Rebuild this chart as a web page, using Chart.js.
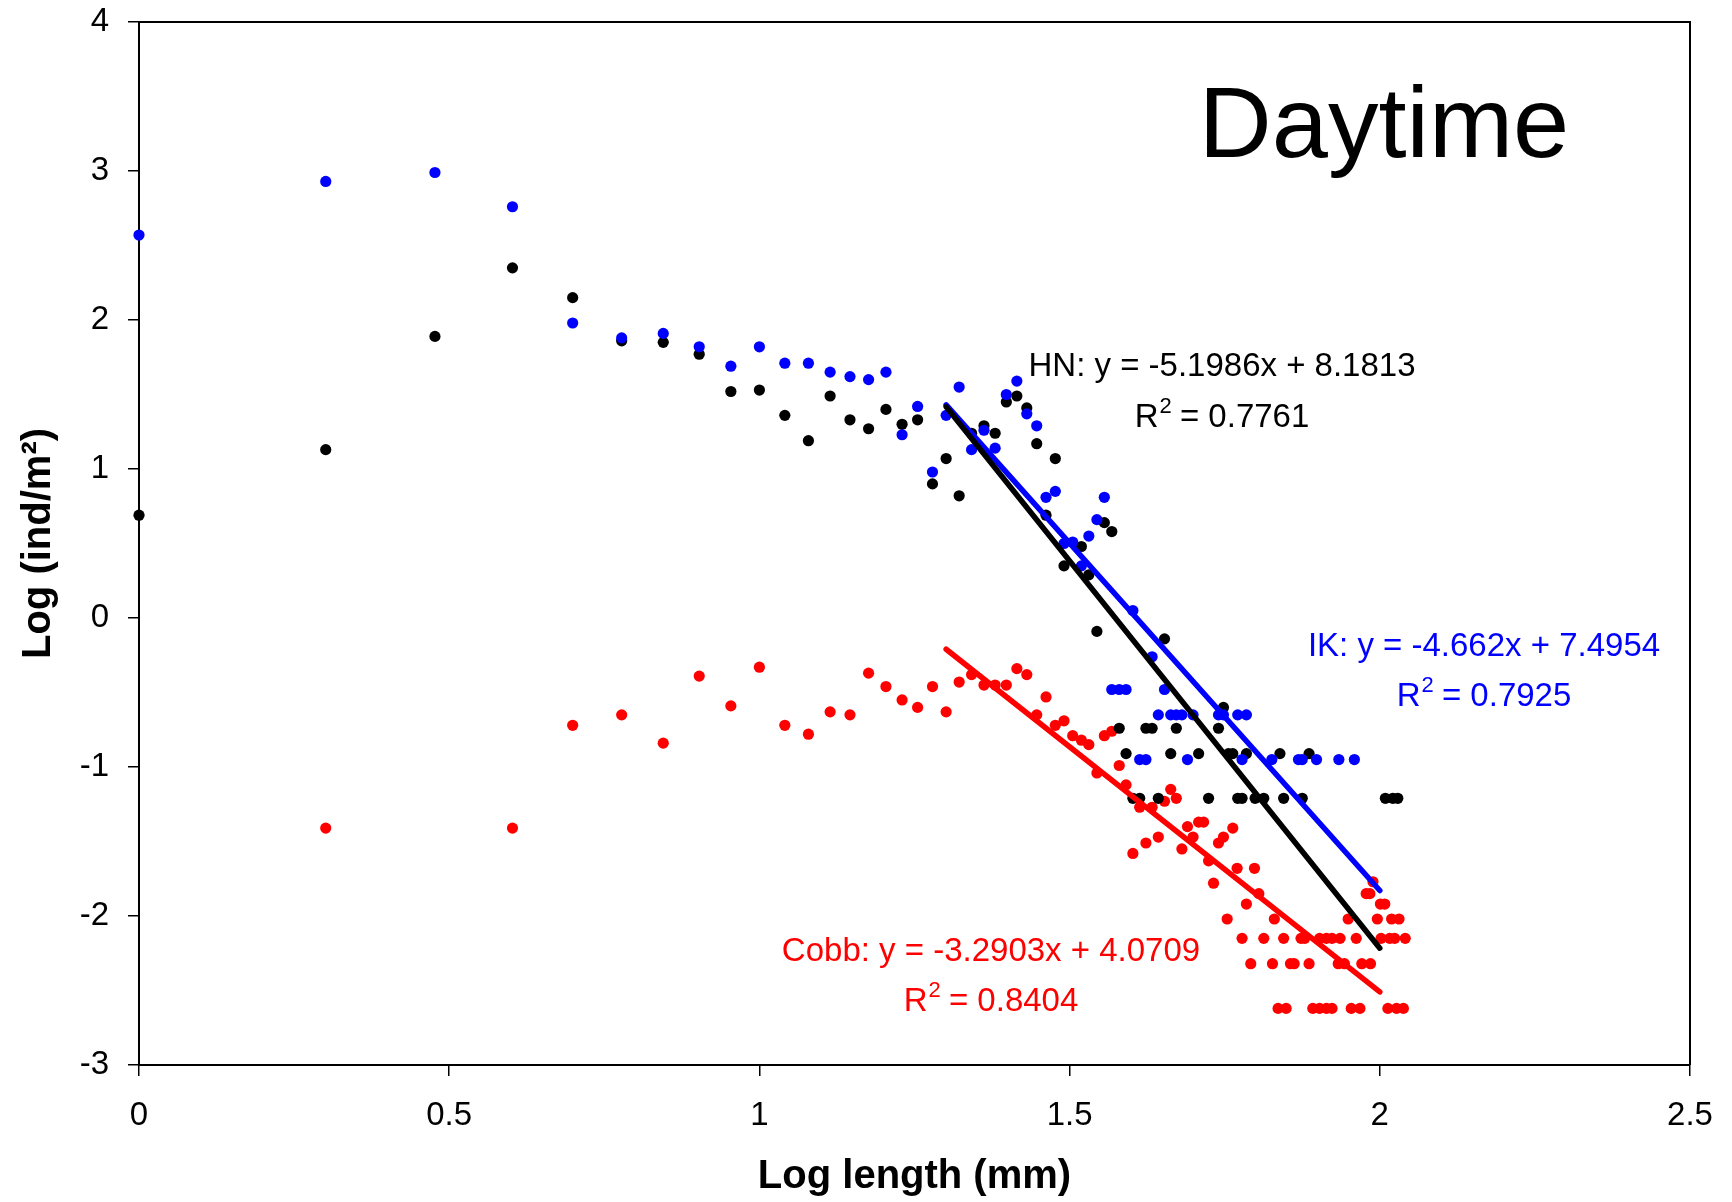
<!DOCTYPE html>
<html>
<head>
<meta charset="utf-8">
<script src="https://cdn.jsdelivr.net/npm/chart.js@4.4.1/dist/chart.umd.min.js"></script>
<style>
  html, body { margin: 0; padding: 0; background: #fff; }
  canvas { display: block; }
</style>
</head>
<body>
<canvas id="grafico" width="1732" height="1202"></canvas>
<script>
// Datos (log longitud en mm, log ind/m2)
var hnX = [0, 0.301, 0.477, 0.602, 0.699, 0.778, 0.845, 0.903, 0.954, 1.000,
  1.041, 1.079, 1.114, 1.146, 1.176, 1.204, 1.230, 1.255, 1.279, 1.301,
  1.322, 1.342, 1.362, 1.380, 1.398, 1.415, 1.431, 1.447, 1.462, 1.477,
  1.491, 1.519, 1.531, 1.544, 1.556, 1.568, 1.580, 1.591, 1.602, 1.613,
  1.623, 1.633, 1.643, 1.653, 1.663, 1.672, 1.708, 1.724, 1.740, 1.748,
  1.756, 1.763, 1.771, 1.778, 1.785, 1.799, 1.813, 1.839, 1.845, 1.875,
  1.886, 2.009, 2.021, 2.029];
var hnY = [0.69, 1.13, 1.89, 2.35, 2.15, 1.86, 1.85, 1.77, 1.52, 1.53,
  1.36, 1.19, 1.49, 1.33, 1.27, 1.40, 1.30, 1.33, 0.90, 1.07,
  0.82, 1.24, 1.29, 1.24, 1.45, 1.49, 1.41, 1.17, 0.69, 1.07,
  0.35, 0.48, 0.29, -0.09, 0.64, 0.58, -0.74, -0.91, -1.21, -1.21,
  -0.74, -0.74, -1.21, -0.14, -0.91, -0.74, -0.91, -1.21, -0.74, -0.60,
  -0.91, -0.91, -1.21, -1.21, -0.91, -1.21, -1.21, -0.91, -1.21, -1.21,
  -0.91, -1.21, -1.21, -1.21];

var ikX = [0, 0.301, 0.477, 0.602, 0.699, 0.778, 0.845, 0.903, 0.954, 1.000,
  1.041, 1.079, 1.114, 1.146, 1.176, 1.204, 1.230, 1.255, 1.279, 1.301,
  1.322, 1.342, 1.362, 1.380, 1.398, 1.415, 1.431, 1.447, 1.462, 1.477,
  1.491, 1.505, 1.519, 1.531, 1.544, 1.556, 1.568, 1.580, 1.591, 1.602,
  1.613, 1.623, 1.633, 1.643, 1.653, 1.663, 1.672, 1.681, 1.690, 1.699,
  1.740, 1.748, 1.771, 1.778, 1.785, 1.826, 1.869, 1.875, 1.898, 1.934,
  1.959];
var ikY = [2.57, 2.93, 2.99, 2.76, 1.98, 1.88, 1.91, 1.82, 1.69, 1.82,
  1.71, 1.71, 1.65, 1.62, 1.60, 1.65, 1.23, 1.42, 0.98, 1.36,
  1.55, 1.13, 1.26, 1.14, 1.50, 1.59, 1.37, 1.29, 0.81, 0.85,
  0.50, 0.51, 0.35, 0.55, 0.66, 0.81, -0.48, -0.48, -0.48, 0.05,
  -0.95, -0.95, -0.26, -0.65, -0.48, -0.65, -0.65, -0.65, -0.95, -0.65,
  -0.65, -0.65, -0.65, -0.95, -0.65, -0.95, -0.95, -0.95, -0.95, -0.95,
  -0.95];

var cobbX = [0.301, 0.602, 0.699, 0.778, 0.845, 0.903, 0.954, 1.000, 1.041, 1.079,
  1.114, 1.146, 1.176, 1.204, 1.230, 1.255, 1.279, 1.301, 1.322, 1.342,
  1.362, 1.380, 1.398, 1.415, 1.431, 1.447, 1.462, 1.477, 1.491, 1.505,
  1.519, 1.531, 1.544, 1.556, 1.568, 1.580, 1.591, 1.602, 1.613, 1.623,
  1.633, 1.643, 1.653, 1.663, 1.672, 1.681, 1.690, 1.699, 1.708, 1.716,
  1.724, 1.732, 1.740, 1.748, 1.754, 1.763, 1.770, 1.778, 1.785, 1.792,
  1.798, 1.805, 1.813, 1.827, 1.830, 1.836, 1.845, 1.849, 1.856, 1.862,
  1.873, 1.879, 1.886, 1.892, 1.903, 1.903, 1.914, 1.914, 1.923, 1.923,
  1.933, 1.936, 1.943, 1.949, 1.954, 1.962, 1.968, 1.971, 1.978, 1.984,
  1.985, 1.989, 1.996, 2.001, 2.002, 2.008, 2.013, 2.016, 2.019, 2.024,
  2.027, 2.031, 2.038, 2.041];
var cobbY = [-1.41, -1.41, -0.72, -0.65, -0.84, -0.39, -0.59, -0.33, -0.72, -0.78,
  -0.63, -0.65, -0.37, -0.46, -0.55, -0.60, -0.46, -0.63, -0.43, -0.38,
  -0.45, -0.45, -0.45, -0.34, -0.38, -0.65, -0.53, -0.72, -0.69, -0.79,
  -0.82, -0.85, -1.04, -0.79, -0.76, -0.99, -1.12, -1.58, -1.27, -1.51,
  -1.27, -1.47, -1.23, -1.15, -1.21, -1.55, -1.40, -1.47, -1.37, -1.37,
  -1.63, -1.78, -1.51, -1.47, -2.02, -1.41, -1.68, -2.15, -1.92, -2.32,
  -1.68, -1.85, -2.15, -2.32, -2.02, -2.62, -2.15, -2.62, -2.32, -2.32,
  -2.15, -2.15, -2.32, -2.62, -2.15, -2.62, -2.15, -2.62, -2.15, -2.62,
  -2.32, -2.15, -2.32, -2.02, -2.62, -2.15, -2.62, -2.32, -1.85, -1.85,
  -2.32, -1.77, -2.02, -1.92, -2.15, -1.92, -2.62, -2.15, -2.02, -2.15,
  -2.62, -2.02, -2.62, -2.15];

// Rectas de regresion (HN, IK, Cobb)
var ajusteNombres = ['HN', 'IK', 'Cobb'];
var ajustePendiente = [-5.1986, -4.662, -3.2903];
var ajusteOrdenada = [8.1813, 7.4954, 4.0709];
var ajusteR2 = ['0.7761', '0.7925', '0.8404'];
var ajusteX = [1.301, 2.0];

// Marcas de los ejes
var xTicks = [0, 0.5, 1, 1.5, 2, 2.5];
var yTicks = [4, 3, 2, 1, 0, -1, -2, -3];

var FUENTE = '"Liberation Sans", Arial, sans-serif';
Chart.defaults.font.family = FUENTE;
Chart.defaults.color = '#000';

function puntos(xs, ys) {
  return xs.map(function (x, i) { return { x: x, y: ys[i] }; });
}
function recta(i) {
  return ajusteX.map(function (x) {
    return { x: x, y: ajustePendiente[i] * x + ajusteOrdenada[i] };
  });
}

function serie(label, data, color, orden) {
  return {
    type: 'scatter', label: label, data: data,
    backgroundColor: color, borderWidth: 0,
    pointRadius: 5.6, pointHoverRadius: 5.6,
    clip: false, order: orden
  };
}
function linea(i, color) {
  return {
    type: 'line', label: ajusteNombres[i] + ' ajuste', data: recta(i),
    borderColor: color, borderWidth: 5.5, borderCapStyle: 'round',
    pointRadius: 0, fill: false, showLine: true, order: 0
  };
}

// Texto con R al cuadrado como superindice
function textoR2(ctx, valor, cx, cy, tam) {
  var a = 'R', sup = '2', b = ' = ' + valor;
  var tsup = Math.round(tam * 0.66);
  ctx.font = tam + 'px ' + FUENTE;
  var wa = ctx.measureText(a).width, wb = ctx.measureText(b).width;
  ctx.font = tsup + 'px ' + FUENTE;
  var ws = ctx.measureText(sup).width;
  var x = cx - (wa + ws + wb) / 2;
  ctx.textAlign = 'left';
  ctx.textBaseline = 'middle';
  ctx.font = tam + 'px ' + FUENTE;
  ctx.fillText(a, x, cy);
  ctx.font = tsup + 'px ' + FUENTE;
  ctx.fillText(sup, x + wa + 1, cy - tam * 0.34);
  ctx.font = tam + 'px ' + FUENTE;
  ctx.fillText(b, x + wa + ws, cy);
}

var etiquetas = {
  id: 'etiquetas',
  afterDatasetsDraw: function (chart) {
    var ctx = chart.ctx, a = chart.chartArea;
    ctx.save();
    // marco superior y derecho
    ctx.strokeStyle = '#000';
    ctx.lineWidth = 2;
    ctx.beginPath();
    ctx.moveTo(a.left, a.top);
    ctx.lineTo(a.right, a.top);
    ctx.lineTo(a.right, a.bottom);
    ctx.stroke();

    ctx.fillStyle = '#000';
    ctx.textAlign = 'center';
    ctx.textBaseline = 'middle';
    ctx.font = '101px ' + FUENTE;
    ctx.fillText('Daytime', 1384, 129);

    var pos = [[1222, 367, 418], [1484, 647, 697], [991, 952, 1002]];
    var colores = ['#000000', '#0000ff', '#ff0000'];
    for (var i = 0; i < 3; i++) {
      ctx.fillStyle = colores[i];
      ctx.font = '33px ' + FUENTE;
      ctx.textAlign = 'center';
      ctx.textBaseline = 'middle';
      var ec = ajusteNombres[i] + ': y = ' + ajustePendiente[i] + 'x + ' + ajusteOrdenada[i];
      ctx.fillText(ec, pos[i][0], pos[i][1]);
      textoR2(ctx, ajusteR2[i], pos[i][0], pos[i][2], 33);
    }
    ctx.restore();
  }
};

var ctx = document.getElementById('grafico').getContext('2d');
var grafico = new Chart(ctx, {
  type: 'scatter',
  data: {
    datasets: [
      linea(0, '#000000'),
      linea(1, '#0000ff'),
      linea(2, '#ff0000'),
      serie('IK', puntos(ikX, ikY), '#0000ff', 1),
      serie('HN', puntos(hnX, hnY), '#000000', 2),
      serie('Cobb', puntos(cobbX, cobbY), '#ff0000', 3)
    ]
  },
  options: {
    responsive: false,
    animation: false,
    devicePixelRatio: 1,
    layout: { padding: { left: 0, right: 42, top: 22, bottom: 0 } },
    plugins: { legend: { display: false }, tooltip: { enabled: false } },
    scales: {
      x: {
        type: 'linear', min: 0, max: 2.5,
        afterBuildTicks: function (s) { s.ticks = xTicks.map(function (v) { return { value: v }; }); },
        afterFit: function (s) { s.height = 137; s.paddingLeft = 0; s.paddingRight = 0; },
        grid: { drawOnChartArea: false, drawTicks: true, tickLength: 11, color: '#000', lineWidth: 1.5 },
        border: { display: true, color: '#000', width: 2 },
        ticks: { font: { size: 33 }, padding: 20, color: '#000', maxRotation: 0,
          callback: function (v) { return String(v); } },
        title: { display: true, text: 'Log length (mm)', color: '#000',
          font: { size: 40, weight: 'bold' }, padding: { top: 0, bottom: 1 } }
      },
      y: {
        type: 'linear', min: -3, max: 4,
        afterBuildTicks: function (s) { s.ticks = yTicks.map(function (v) { return { value: v }; }); },
        afterFit: function (s) { s.width = 139; s.paddingTop = 0; s.paddingBottom = 0; },
        grid: { drawOnChartArea: false, drawTicks: true, tickLength: 11, color: '#000', lineWidth: 1.5 },
        border: { display: true, color: '#000', width: 2 },
        ticks: { font: { size: 33 }, padding: 19, color: '#000',
          callback: function (v) { return String(v); } },
        title: { display: true, text: 'Log (ind/m²)', color: '#000',
          font: { size: 40, weight: 'bold' }, padding: { top: 15, bottom: 0 } }
      }
    }
  },
  plugins: [etiquetas]
});
</script>
</body>
</html>
